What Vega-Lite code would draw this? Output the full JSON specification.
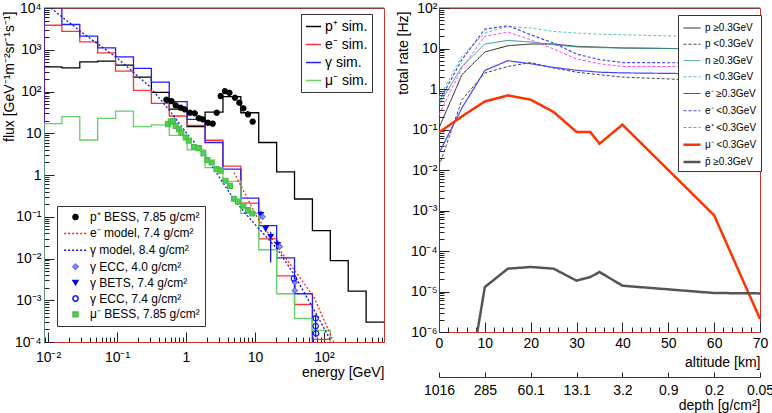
{
  "$schema": "https://vega.github.io/schema/vega-lite/v6.json",
  "padding": {"left": 1, "top": 0, "right": 0, "bottom": 0},
  "config": {
    "font": "Liberation Sans",
    "view": {"stroke": "#d03030", "strokeWidth": 1},
    "axis": {"labelFont": "Liberation Sans", "labelFontSize": 14, "labelColor": "black", "titleFont": "Liberation Sans", "titleFontSize": 14, "titleFontWeight": "normal", "titleColor": "black", "grid": false, "tickColor": "#222", "tickWidth": 1, "labelOverlap": false, "labelFlush": false, "labelBound": false},
    "legend": {"labelFont": "Liberation Sans", "labelColor": "black", "symbolOpacity": 1}
  },
  "resolve": {
    "scale": {"color": "independent", "stroke": "independent", "fill": "independent", "shape": "independent", "strokeDash": "independent", "strokeWidth": "independent", "size": "independent"},
    "legend": {"color": "independent", "stroke": "independent", "fill": "independent", "shape": "independent", "strokeDash": "independent", "strokeWidth": "independent", "size": "independent"}
  },
  "datasets": {
    "hist": [
      {"sim": "p⁺ sim.", "i": 0, "E": 0.00875, "f": 0.00001},
      {"sim": "p⁺ sim.", "i": 1, "E": 0.00875, "f": 390},
      {"sim": "p⁺ sim.", "i": 2, "E": 0.0159, "f": 370},
      {"sim": "p⁺ sim.", "i": 3, "E": 0.0289, "f": 513},
      {"sim": "p⁺ sim.", "i": 4, "E": 0.0525, "f": 533},
      {"sim": "p⁺ sim.", "i": 5, "E": 0.0954, "f": 429},
      {"sim": "p⁺ sim.", "i": 6, "E": 0.1734, "f": 221},
      {"sim": "p⁺ sim.", "i": 7, "E": 0.3151, "f": 95},
      {"sim": "p⁺ sim.", "i": 8, "E": 0.5726, "f": 38},
      {"sim": "p⁺ sim.", "i": 9, "E": 1.04, "f": 14.5},
      {"sim": "p⁺ sim.", "i": 10, "E": 1.891, "f": 32},
      {"sim": "p⁺ sim.", "i": 11, "E": 3.436, "f": 75},
      {"sim": "p⁺ sim.", "i": 12, "E": 6.243, "f": 31},
      {"sim": "p⁺ sim.", "i": 13, "E": 11.34, "f": 6},
      {"sim": "p⁺ sim.", "i": 14, "E": 20.62, "f": 1.19},
      {"sim": "p⁺ sim.", "i": 15, "E": 37.46, "f": 0.266},
      {"sim": "p⁺ sim.", "i": 16, "E": 68.08, "f": 0.0465},
      {"sim": "p⁺ sim.", "i": 17, "E": 123.7, "f": 0.0089},
      {"sim": "p⁺ sim.", "i": 18, "E": 224.8, "f": 0.00166},
      {"sim": "p⁺ sim.", "i": 19, "E": 408.6, "f": 0.0003},
      {"sim": "p⁺ sim.", "i": 20, "E": 742.4, "f": 0.0003},
      {"sim": "e⁻ sim.", "i": 0, "E": 0.00875, "f": 0.00001},
      {"sim": "e⁻ sim.", "i": 1, "E": 0.00875, "f": 3860},
      {"sim": "e⁻ sim.", "i": 2, "E": 0.0159, "f": 2770},
      {"sim": "e⁻ sim.", "i": 3, "E": 0.0289, "f": 1540},
      {"sim": "e⁻ sim.", "i": 4, "E": 0.0525, "f": 841},
      {"sim": "e⁻ sim.", "i": 5, "E": 0.0954, "f": 307},
      {"sim": "e⁻ sim.", "i": 6, "E": 0.1734, "f": 106},
      {"sim": "e⁻ sim.", "i": 7, "E": 0.3151, "f": 52.1},
      {"sim": "e⁻ sim.", "i": 8, "E": 0.5726, "f": 25.9},
      {"sim": "e⁻ sim.", "i": 9, "E": 1.04, "f": 15.5},
      {"sim": "e⁻ sim.", "i": 10, "E": 1.891, "f": 6.8},
      {"sim": "e⁻ sim.", "i": 11, "E": 3.436, "f": 1.63},
      {"sim": "e⁻ sim.", "i": 12, "E": 6.243, "f": 0.213},
      {"sim": "e⁻ sim.", "i": 13, "E": 11.34, "f": 0.0294},
      {"sim": "e⁻ sim.", "i": 14, "E": 20.62, "f": 0.00385},
      {"sim": "e⁻ sim.", "i": 15, "E": 37.46, "f": 0.00079},
      {"sim": "e⁻ sim.", "i": 16, "E": 68.08, "f": 0.000115},
      {"sim": "e⁻ sim.", "i": 17, "E": 123.7, "f": 0.000115},
      {"sim": "e⁻ sim.", "i": 18, "E": 123.7, "f": 0.00001},
      {"sim": "γ sim.", "i": 0, "E": 0.00875, "f": 0.00001},
      {"sim": "γ sim.", "i": 1, "E": 0.00875, "f": 12000},
      {"sim": "γ sim.", "i": 2, "E": 0.0159, "f": 4020},
      {"sim": "γ sim.", "i": 3, "E": 0.0289, "f": 2110},
      {"sim": "γ sim.", "i": 4, "E": 0.0525, "f": 1110},
      {"sim": "γ sim.", "i": 5, "E": 0.0954, "f": 676},
      {"sim": "γ sim.", "i": 6, "E": 0.1734, "f": 357},
      {"sim": "γ sim.", "i": 7, "E": 0.3151, "f": 168},
      {"sim": "γ sim.", "i": 8, "E": 0.5726, "f": 57},
      {"sim": "γ sim.", "i": 9, "E": 1.04, "f": 21.6},
      {"sim": "γ sim.", "i": 10, "E": 1.891, "f": 6.0},
      {"sim": "γ sim.", "i": 11, "E": 3.436, "f": 1.38},
      {"sim": "γ sim.", "i": 12, "E": 6.243, "f": 0.28},
      {"sim": "γ sim.", "i": 13, "E": 11.34, "f": 0.0612},
      {"sim": "γ sim.", "i": 14, "E": 20.62, "f": 0.01035},
      {"sim": "γ sim.", "i": 15, "E": 37.46, "f": 0.00143},
      {"sim": "γ sim.", "i": 16, "E": 68.08, "f": 0.00143},
      {"sim": "γ sim.", "i": 17, "E": 68.08, "f": 0.00001},
      {"sim": "μ⁻ sim.", "i": 0, "E": 0.00875, "f": 0.00001},
      {"sim": "μ⁻ sim.", "i": 1, "E": 0.00875, "f": 17},
      {"sim": "μ⁻ sim.", "i": 2, "E": 0.0159, "f": 25},
      {"sim": "μ⁻ sim.", "i": 3, "E": 0.0289, "f": 6.9},
      {"sim": "μ⁻ sim.", "i": 4, "E": 0.0525, "f": 22.8},
      {"sim": "μ⁻ sim.", "i": 5, "E": 0.0954, "f": 34},
      {"sim": "μ⁻ sim.", "i": 6, "E": 0.1734, "f": 14.4},
      {"sim": "μ⁻ sim.", "i": 7, "E": 0.3151, "f": 15.8},
      {"sim": "μ⁻ sim.", "i": 8, "E": 0.5726, "f": 8.9},
      {"sim": "μ⁻ sim.", "i": 9, "E": 1.04, "f": 4.0},
      {"sim": "μ⁻ sim.", "i": 10, "E": 1.891, "f": 1.51},
      {"sim": "μ⁻ sim.", "i": 11, "E": 3.436, "f": 0.70},
      {"sim": "μ⁻ sim.", "i": 12, "E": 6.243, "f": 0.12},
      {"sim": "μ⁻ sim.", "i": 13, "E": 11.34, "f": 0.0162},
      {"sim": "μ⁻ sim.", "i": 14, "E": 20.62, "f": 0.00143},
      {"sim": "μ⁻ sim.", "i": 15, "E": 37.46, "f": 0.00037},
      {"sim": "μ⁻ sim.", "i": 16, "E": 68.08, "f": 0.00019},
      {"sim": "μ⁻ sim.", "i": 17, "E": 123.7, "f": 0.00019},
      {"sim": "μ⁻ sim.", "i": 18, "E": 123.7, "f": 0.00001}
    ],
    "models": [
      {"label": "e⁻ model, 7.4 g/cm²", "E": 4.97, "f": 1.15},
      {"label": "e⁻ model, 7.4 g/cm²", "E": 10.8, "f": 0.0966},
      {"label": "e⁻ model, 7.4 g/cm²", "E": 26.3, "f": 0.0117},
      {"label": "e⁻ model, 7.4 g/cm²", "E": 71.6, "f": 0.00119},
      {"label": "e⁻ model, 7.4 g/cm²", "E": 138, "f": 0.0001},
      {"label": "γ model, 8.4 g/cm²", "E": 0.011, "f": 10000},
      {"label": "γ model, 8.4 g/cm²", "E": 0.03, "f": 2700},
      {"label": "γ model, 8.4 g/cm²", "E": 0.1, "f": 640},
      {"label": "γ model, 8.4 g/cm²", "E": 0.3, "f": 130},
      {"label": "γ model, 8.4 g/cm²", "E": 0.57, "f": 36},
      {"label": "γ model, 8.4 g/cm²", "E": 1.05, "f": 9.5},
      {"label": "γ model, 8.4 g/cm²", "E": 1.82, "f": 3.2},
      {"label": "γ model, 8.4 g/cm²", "E": 4.96, "f": 0.26},
      {"label": "γ model, 8.4 g/cm²", "E": 8.67, "f": 0.085},
      {"label": "γ model, 8.4 g/cm²", "E": 21.1, "f": 0.017},
      {"label": "γ model, 8.4 g/cm²", "E": 36.7, "f": 0.0042},
      {"label": "γ model, 8.4 g/cm²", "E": 75.9, "f": 0.0005},
      {"label": "γ model, 8.4 g/cm²", "E": 125, "f": 0.00011}
    ],
    "points": [
      {"label": "p⁺ BESS, 7.85 g/cm²", "E": 0.52, "f": 63.5},
      {"label": "p⁺ BESS, 7.85 g/cm²", "E": 0.614, "f": 59},
      {"label": "p⁺ BESS, 7.85 g/cm²", "E": 0.71, "f": 46.7},
      {"label": "p⁺ BESS, 7.85 g/cm²", "E": 0.838, "f": 40.9},
      {"label": "p⁺ BESS, 7.85 g/cm²", "E": 0.958, "f": 37.5},
      {"label": "p⁺ BESS, 7.85 g/cm²", "E": 1.14, "f": 31.1},
      {"label": "p⁺ BESS, 7.85 g/cm²", "E": 1.34, "f": 30.1},
      {"label": "p⁺ BESS, 7.85 g/cm²", "E": 1.54, "f": 22.9},
      {"label": "p⁺ BESS, 7.85 g/cm²", "E": 1.75, "f": 21.6},
      {"label": "p⁺ BESS, 7.85 g/cm²", "E": 2.08, "f": 17.9},
      {"label": "p⁺ BESS, 7.85 g/cm²", "E": 2.44, "f": 17},
      {"label": "p⁺ BESS, 7.85 g/cm²", "E": 2.79, "f": 31.1},
      {"label": "p⁺ BESS, 7.85 g/cm²", "E": 3.18, "f": 77.8},
      {"label": "p⁺ BESS, 7.85 g/cm²", "E": 3.67, "f": 102},
      {"label": "p⁺ BESS, 7.85 g/cm²", "E": 4.26, "f": 93.3},
      {"label": "p⁺ BESS, 7.85 g/cm²", "E": 5.13, "f": 71},
      {"label": "p⁺ BESS, 7.85 g/cm²", "E": 5.94, "f": 53.9},
      {"label": "p⁺ BESS, 7.85 g/cm²", "E": 6.79, "f": 39.6},
      {"label": "p⁺ BESS, 7.85 g/cm²", "E": 7.92, "f": 28.5},
      {"label": "p⁺ BESS, 7.85 g/cm²", "E": 9.27, "f": 19},
      {"label": "μ⁻ BESS, 7.85 g/cm²", "E": 0.548, "f": 16.4},
      {"label": "μ⁻ BESS, 7.85 g/cm²", "E": 0.6, "f": 19},
      {"label": "μ⁻ BESS, 7.85 g/cm²", "E": 0.648, "f": 19.7},
      {"label": "μ⁻ BESS, 7.85 g/cm²", "E": 0.71, "f": 15},
      {"label": "μ⁻ BESS, 7.85 g/cm²", "E": 0.792, "f": 12.5},
      {"label": "μ⁻ BESS, 7.85 g/cm²", "E": 0.857, "f": 10.4},
      {"label": "μ⁻ BESS, 7.85 g/cm²", "E": 0.99, "f": 7.9},
      {"label": "μ⁻ BESS, 7.85 g/cm²", "E": 1.1, "f": 6.6},
      {"label": "μ⁻ BESS, 7.85 g/cm²", "E": 1.31, "f": 4.7},
      {"label": "μ⁻ BESS, 7.85 g/cm²", "E": 1.54, "f": 4.4},
      {"label": "μ⁻ BESS, 7.85 g/cm²", "E": 1.79, "f": 3.26},
      {"label": "μ⁻ BESS, 7.85 g/cm²", "E": 2.04, "f": 2.27},
      {"label": "μ⁻ BESS, 7.85 g/cm²", "E": 2.36, "f": 1.99},
      {"label": "μ⁻ BESS, 7.85 g/cm²", "E": 2.76, "f": 1.38},
      {"label": "μ⁻ BESS, 7.85 g/cm²", "E": 3.18, "f": 1.26},
      {"label": "μ⁻ BESS, 7.85 g/cm²", "E": 3.75, "f": 0.73},
      {"label": "μ⁻ BESS, 7.85 g/cm²", "E": 4.34, "f": 0.55},
      {"label": "μ⁻ BESS, 7.85 g/cm²", "E": 4.96, "f": 0.27},
      {"label": "μ⁻ BESS, 7.85 g/cm²", "E": 5.67, "f": 0.23},
      {"label": "μ⁻ BESS, 7.85 g/cm²", "E": 6.79, "f": 0.184},
      {"label": "μ⁻ BESS, 7.85 g/cm²", "E": 7.92, "f": 0.145},
      {"label": "μ⁻ BESS, 7.85 g/cm²", "E": 9.16, "f": 0.12},
      {"label": "γ BETS, 7.4 g/cm²", "E": 12.2, "f": 0.112},
      {"label": "γ BETS, 7.4 g/cm²", "E": 14.3, "f": 0.052},
      {"label": "γ BETS, 7.4 g/cm²", "E": 16.9, "f": 0.0334},
      {"label": "γ BETS, 7.4 g/cm²", "E": 21.4, "f": 0.0215},
      {"label": "γ ECC, 4.0 g/cm²", "E": 12.9, "f": 0.1},
      {"label": "γ ECC, 4.0 g/cm²", "E": 22.9, "f": 0.0193},
      {"label": "γ ECC, 4.0 g/cm²", "E": 37.8, "f": 0.0027},
      {"label": "γ ECC, 4.0 g/cm²", "E": 37.8, "f": 0.0017},
      {"label": "γ ECC, 7.4 g/cm²", "E": 36.7, "f": 0.0033},
      {"label": "γ ECC, 7.4 g/cm²", "E": 75.9, "f": 0.00037},
      {"label": "γ ECC, 7.4 g/cm²", "E": 75.9, "f": 0.00024},
      {"label": "γ ECC, 7.4 g/cm²", "E": 77, "f": 0.00016}
    ],
    "errs": [
      {"E": 12.2, "lo": 0.09, "hi": 0.14},
      {"E": 14.3, "lo": 0.044, "hi": 0.062},
      {"E": 16.9, "lo": 0.008, "hi": 0.044},
      {"E": 21.4, "lo": 0.017, "hi": 0.027},
      {"E": 37.8, "lo": 0.0014, "hi": 0.0034},
      {"E": 75.9, "lo": 0.00013, "hi": 0.00045}
    ],
    "rates": [
      {"s": "p ≥0.3GeV", "alt": 0, "r": 0.109}, {"s": "p ≥0.3GeV", "alt": 5, "r": 2.25}, {"s": "p ≥0.3GeV", "alt": 10, "r": 8.2}, {"s": "p ≥0.3GeV", "alt": 15, "r": 11.7}, {"s": "p ≥0.3GeV", "alt": 20, "r": 12.9}, {"s": "p ≥0.3GeV", "alt": 25, "r": 12.9}, {"s": "p ≥0.3GeV", "alt": 30, "r": 11.3}, {"s": "p ≥0.3GeV", "alt": 35, "r": 10.8}, {"s": "p ≥0.3GeV", "alt": 40, "r": 10.3}, {"s": "p ≥0.3GeV", "alt": 60, "r": 9.7}, {"s": "p ≥0.3GeV", "alt": 70, "r": 9.6},
      {"s": "p <0.3GeV", "alt": 0, "r": 0.0123}, {"s": "p <0.3GeV", "alt": 5, "r": 0.54}, {"s": "p <0.3GeV", "alt": 10, "r": 2.48}, {"s": "p <0.3GeV", "alt": 15, "r": 3.6}, {"s": "p <0.3GeV", "alt": 20, "r": 4.5}, {"s": "p <0.3GeV", "alt": 25, "r": 3.3}, {"s": "p <0.3GeV", "alt": 30, "r": 2.6}, {"s": "p <0.3GeV", "alt": 35, "r": 2.25}, {"s": "p <0.3GeV", "alt": 40, "r": 1.97}, {"s": "p <0.3GeV", "alt": 60, "r": 1.59}, {"s": "p <0.3GeV", "alt": 70, "r": 1.4},
      {"s": "n ≥0.3GeV", "alt": 0, "r": 0.41}, {"s": "n ≥0.3GeV", "alt": 5, "r": 3.6}, {"s": "n ≥0.3GeV", "alt": 10, "r": 12.9}, {"s": "n ≥0.3GeV", "alt": 15, "r": 15.8}, {"s": "n ≥0.3GeV", "alt": 20, "r": 14.5}, {"s": "n ≥0.3GeV", "alt": 25, "r": 12.4}, {"s": "n ≥0.3GeV", "alt": 30, "r": 10.9}, {"s": "n ≥0.3GeV", "alt": 35, "r": 10.5}, {"s": "n ≥0.3GeV", "alt": 40, "r": 10.3}, {"s": "n ≥0.3GeV", "alt": 60, "r": 9.8}, {"s": "n ≥0.3GeV", "alt": 70, "r": 9.8},
      {"s": "n <0.3GeV", "alt": 0, "r": 0.6}, {"s": "n <0.3GeV", "alt": 5, "r": 6.4}, {"s": "n <0.3GeV", "alt": 10, "r": 24}, {"s": "n <0.3GeV", "alt": 15, "r": 35}, {"s": "n <0.3GeV", "alt": 20, "r": 32}, {"s": "n <0.3GeV", "alt": 25, "r": 26.4}, {"s": "n <0.3GeV", "alt": 30, "r": 24}, {"s": "n <0.3GeV", "alt": 35, "r": 22.5}, {"s": "n <0.3GeV", "alt": 40, "r": 21.9}, {"s": "n <0.3GeV", "alt": 60, "r": 19.2}, {"s": "n <0.3GeV", "alt": 70, "r": 17},
      {"s": "e⁻ ≥0.3GeV", "alt": 0, "r": 0.026}, {"s": "e⁻ ≥0.3GeV", "alt": 5, "r": 0.34}, {"s": "e⁻ ≥0.3GeV", "alt": 10, "r": 2.88}, {"s": "e⁻ ≥0.3GeV", "alt": 15, "r": 5.0}, {"s": "e⁻ ≥0.3GeV", "alt": 20, "r": 4.2}, {"s": "e⁻ ≥0.3GeV", "alt": 25, "r": 3.4}, {"s": "e⁻ ≥0.3GeV", "alt": 30, "r": 2.9}, {"s": "e⁻ ≥0.3GeV", "alt": 35, "r": 2.6}, {"s": "e⁻ ≥0.3GeV", "alt": 40, "r": 2.5}, {"s": "e⁻ ≥0.3GeV", "alt": 60, "r": 2.36}, {"s": "e⁻ ≥0.3GeV", "alt": 70, "r": 2.4},
      {"s": "e⁻ <0.3GeV", "alt": 0, "r": 0.49}, {"s": "e⁻ <0.3GeV", "alt": 5, "r": 5.3}, {"s": "e⁻ <0.3GeV", "alt": 10, "r": 30}, {"s": "e⁻ <0.3GeV", "alt": 15, "r": 36.6}, {"s": "e⁻ <0.3GeV", "alt": 20, "r": 21.9}, {"s": "e⁻ <0.3GeV", "alt": 25, "r": 13.6}, {"s": "e⁻ <0.3GeV", "alt": 30, "r": 7.3}, {"s": "e⁻ <0.3GeV", "alt": 35, "r": 5.3}, {"s": "e⁻ <0.3GeV", "alt": 40, "r": 4.5}, {"s": "e⁻ <0.3GeV", "alt": 60, "r": 4.4}, {"s": "e⁻ <0.3GeV", "alt": 70, "r": 4.4},
      {"s": "e⁺ <0.3GeV", "alt": 0, "r": 0.23}, {"s": "e⁺ <0.3GeV", "alt": 5, "r": 3.3}, {"s": "e⁺ <0.3GeV", "alt": 10, "r": 19.9}, {"s": "e⁺ <0.3GeV", "alt": 15, "r": 25.5}, {"s": "e⁺ <0.3GeV", "alt": 20, "r": 16.5}, {"s": "e⁺ <0.3GeV", "alt": 25, "r": 9.7}, {"s": "e⁺ <0.3GeV", "alt": 30, "r": 5.5}, {"s": "e⁺ <0.3GeV", "alt": 35, "r": 4.2}, {"s": "e⁺ <0.3GeV", "alt": 40, "r": 3.6}, {"s": "e⁺ <0.3GeV", "alt": 60, "r": 3.6}, {"s": "e⁺ <0.3GeV", "alt": 70, "r": 3.6},
      {"s": "μ⁻ <0.3GeV", "alt": 0, "r": 0.085}, {"s": "μ⁻ <0.3GeV", "alt": 5, "r": 0.21}, {"s": "μ⁻ <0.3GeV", "alt": 10, "r": 0.494}, {"s": "μ⁻ <0.3GeV", "alt": 15, "r": 0.695}, {"s": "μ⁻ <0.3GeV", "alt": 20, "r": 0.545}, {"s": "μ⁻ <0.3GeV", "alt": 25, "r": 0.27}, {"s": "μ⁻ <0.3GeV", "alt": 30, "r": 0.0867}, {"s": "μ⁻ <0.3GeV", "alt": 33, "r": 0.0867}, {"s": "μ⁻ <0.3GeV", "alt": 35, "r": 0.0446}, {"s": "μ⁻ <0.3GeV", "alt": 40, "r": 0.1315}, {"s": "μ⁻ <0.3GeV", "alt": 60, "r": 0.00076}, {"s": "μ⁻ <0.3GeV", "alt": 70, "r": 0.0000021},
      {"s": "p̄ ≥0.3GeV", "alt": 5, "r": 0.0000000055}, {"s": "p̄ ≥0.3GeV", "alt": 10, "r": 0.0000129}, {"s": "p̄ ≥0.3GeV", "alt": 15, "r": 0.0000366}, {"s": "p̄ ≥0.3GeV", "alt": 20, "r": 0.0000403}, {"s": "p̄ ≥0.3GeV", "alt": 25, "r": 0.0000366}, {"s": "p̄ ≥0.3GeV", "alt": 30, "r": 0.0000185}, {"s": "p̄ ≥0.3GeV", "alt": 33, "r": 0.0000228}, {"s": "p̄ ≥0.3GeV", "alt": 35, "r": 0.0000303}, {"s": "p̄ ≥0.3GeV", "alt": 40, "r": 0.0000139}, {"s": "p̄ ≥0.3GeV", "alt": 60, "r": 0.00000918}, {"s": "p̄ ≥0.3GeV", "alt": 70, "r": 0.00000898}
    ]
  },
  "hconcat": [
    {
      "width": 340,
      "height": 334,
      "layer": [
        {
          "data": {"values": [{}]},
          "mark": {"type": "rule", "color": "#444", "strokeWidth": 1},
          "encoding": {
            "y": {"datum": 10000, "type": "quantitative", "scale": {"type": "log", "domain": [0.0001, 10000]}, "title": "flux [GeV⁻¹m⁻²sr⁻¹s⁻¹]"}
          }
        },
        {
          "data": {"name": "hist"},
          "mark": {"type": "line", "interpolate": "step-after", "strokeWidth": 1.3, "clip": true},
          "encoding": {
            "x": {
              "field": "E", "type": "quantitative", "title": "energy [GeV]",
              "scale": {"type": "log", "domain": [0.00875, 742.4]},
              "axis": {
                "values": [0.009,0.01,0.02,0.03,0.04,0.05,0.06,0.07,0.08,0.09,0.1,0.2,0.3,0.4,0.5,0.6,0.7,0.8,0.9,1,2,3,4,5,6,7,8,9,10,20,30,40,50,60,70,80,90,100,200,300,400,500,600,700],
                "labelExpr": "datum.value == 0.01 ? '10⁻²' : datum.value == 0.1 ? '10⁻¹' : datum.value == 1 ? '1' : datum.value == 10 ? '10' : datum.value == 100 ? '10²' : ''",
                "tickSize": {"condition": {"test": "indexof([0.01,0.1,1,10,100], datum.value) >= 0", "value": -10}, "value": -5},
                "labelPadding": 18,
                "domainColor": "#d03030",
                "titleAnchor": "end", "titleAlign": "right", "titleBaseline": "top", "titleX": 340, "titleY": 23
              }
            },
            "y": {
              "field": "f", "type": "quantitative", "title": "flux [GeV⁻¹m⁻²sr⁻¹s⁻¹]",
              "scale": {"type": "log", "domain": [0.0001, 10000]},
              "axis": {
                "values": [0.0001,0.0002,0.0003,0.0004,0.0005,0.0006,0.0007,0.0008,0.0009,0.001,0.002,0.003,0.004,0.005,0.006,0.007,0.008,0.009,0.01,0.02,0.03,0.04,0.05,0.06,0.07,0.08,0.09,0.1,0.2,0.3,0.4,0.5,0.6,0.7,0.8,0.9,1,2,3,4,5,6,7,8,9,10,20,30,40,50,60,70,80,90,100,200,300,400,500,600,700,800,900,1000,2000,3000,4000,5000,6000,7000,8000,9000,10000],
                "labelExpr": "datum.value == 10000 ? '10⁴' : datum.value == 1000 ? '10³' : datum.value == 100 ? '10²' : datum.value == 10 ? '10' : datum.value == 1 ? '1' : datum.value == 0.1 ? '10⁻¹' : datum.value == 0.01 ? '10⁻²' : datum.value == 0.001 ? '10⁻³' : datum.value == 0.0001 ? '10⁻⁴' : ''",
                "tickSize": {"condition": {"test": "indexof([0.0001,0.001,0.01,0.1,1,10,100,1000,10000], datum.value) >= 0", "value": -10}, "value": -5},
                "labelPadding": 13,
                "domainColor": "#444",
                "titleAnchor": "end", "titleAlign": "right", "titleBaseline": "bottom", "titleX": -28, "titleY": 3
              }
            },
            "color": {
              "field": "sim", "type": "nominal",
              "scale": {"domain": ["p⁺ sim.", "e⁻ sim.", "γ sim.", "μ⁻ sim."], "range": ["#000000", "#ff3030", "#2020ff", "#66d066"]},
              "legend": {"title": null, "orient": "none", "legendX": 257, "legendY": 6, "symbolType": "stroke", "symbolSize": 225, "symbolStrokeWidth": 1.5, "labelFontSize": 14, "labelOffset": 3, "padding": 4, "rowPadding": 2, "strokeColor": "#333", "fillColor": "white"}
            },
            "order": {"field": "i", "type": "quantitative"}
          }
        },
        {
          "data": {"name": "models"},
          "transform": [{"filter": "datum.label == 'e⁻ model, 7.4 g/cm²'"}],
          "mark": {"type": "line", "strokeDash": [2, 2], "strokeWidth": 1.3, "color": "#ff2020", "clip": true},
          "encoding": {
            "x": {"field": "E", "type": "quantitative", "title": "energy [GeV]", "scale": {"type": "log", "domain": [0.00875, 742.4]}},
            "y": {"field": "f", "type": "quantitative", "title": "flux [GeV⁻¹m⁻²sr⁻¹s⁻¹]", "scale": {"type": "log", "domain": [0.0001, 10000]}}
          }
        },
        {
          "data": {"name": "models"},
          "transform": [{"filter": "datum.label == 'γ model, 8.4 g/cm²'"}],
          "mark": {"type": "line", "strokeDash": [2, 2], "strokeWidth": 1.3, "color": "#1010ee", "clip": true},
          "encoding": {
            "x": {"field": "E", "type": "quantitative", "title": "energy [GeV]", "scale": {"type": "log", "domain": [0.00875, 742.4]}},
            "y": {"field": "f", "type": "quantitative", "title": "flux [GeV⁻¹m⁻²sr⁻¹s⁻¹]", "scale": {"type": "log", "domain": [0.0001, 10000]}}
          }
        },
        {
          "data": {"name": "errs"},
          "mark": {"type": "rule", "color": "#0000ee", "strokeWidth": 1.2, "clip": true},
          "encoding": {
            "x": {"field": "E", "type": "quantitative", "title": "energy [GeV]", "scale": {"type": "log", "domain": [0.00875, 742.4]}},
            "y": {"field": "lo", "type": "quantitative", "title": "flux [GeV⁻¹m⁻²sr⁻¹s⁻¹]", "scale": {"type": "log", "domain": [0.0001, 10000]}},
            "y2": {"field": "hi"}
          }
        },
        {
          "data": {"name": "points"},
          "mark": {"type": "point", "strokeWidth": 1.2, "opacity": 1, "clip": true},
          "encoding": {
            "x": {"field": "E", "type": "quantitative", "title": "energy [GeV]", "scale": {"type": "log", "domain": [0.00875, 742.4]}},
            "y": {"field": "f", "type": "quantitative", "title": "flux [GeV⁻¹m⁻²sr⁻¹s⁻¹]", "scale": {"type": "log", "domain": [0.0001, 10000]}},
            "stroke": {
              "field": "label", "type": "nominal",
              "scale": {"domain": ["p⁺ BESS, 7.85 g/cm²", "e⁻ model, 7.4 g/cm²", "γ model, 8.4 g/cm²", "γ ECC, 4.0 g/cm²", "γ BETS, 7.4 g/cm²", "γ ECC, 7.4 g/cm²", "μ⁻ BESS, 7.85 g/cm²"], "range": ["#000000", "#ff2020", "#1010ee", "#6666ff", "#0000ee", "#1010ff", "#44c044"]},
              "legend": {"title": null, "orient": "none", "legendX": 13, "legendY": 198, "symbolOffset": 7, "labelFontSize": 12, "labelOffset": 8, "padding": 5, "rowPadding": 3.9, "strokeColor": "#333", "fillColor": "white"}
            },
            "fill": {
              "field": "label", "type": "nominal",
              "scale": {"domain": ["p⁺ BESS, 7.85 g/cm²", "e⁻ model, 7.4 g/cm²", "γ model, 8.4 g/cm²", "γ ECC, 4.0 g/cm²", "γ BETS, 7.4 g/cm²", "γ ECC, 7.4 g/cm²", "μ⁻ BESS, 7.85 g/cm²"], "range": ["#000000", "rgba(0,0,0,0)", "rgba(0,0,0,0)", "#9999ff", "#0000ee", "rgba(0,0,0,0)", "#55cc55"]},
              "legend": {"title": null, "orient": "none", "legendX": 13, "legendY": 198, "symbolOffset": 7, "labelFontSize": 12, "labelOffset": 8, "padding": 5, "rowPadding": 3.9, "strokeColor": "#333", "fillColor": "white"}
            },
            "shape": {
              "field": "label", "type": "nominal",
              "scale": {"domain": ["p⁺ BESS, 7.85 g/cm²", "e⁻ model, 7.4 g/cm²", "γ model, 8.4 g/cm²", "γ ECC, 4.0 g/cm²", "γ BETS, 7.4 g/cm²", "γ ECC, 7.4 g/cm²", "μ⁻ BESS, 7.85 g/cm²"], "range": ["circle", "M-2,0H2", "M-2,0H2", "diamond", "triangle-down", "circle", "square"]},
              "legend": {"title": null, "orient": "none", "legendX": 13, "legendY": 198, "symbolOffset": 7, "labelFontSize": 12, "labelOffset": 8, "padding": 5, "rowPadding": 3.9, "strokeColor": "#333", "fillColor": "white"}
            },
            "strokeDash": {
              "field": "label", "type": "nominal",
              "scale": {"domain": ["p⁺ BESS, 7.85 g/cm²", "e⁻ model, 7.4 g/cm²", "γ model, 8.4 g/cm²", "γ ECC, 4.0 g/cm²", "γ BETS, 7.4 g/cm²", "γ ECC, 7.4 g/cm²", "μ⁻ BESS, 7.85 g/cm²"], "range": [[1, 0], [2, 2], [2, 2], [1, 0], [1, 0], [1, 0], [1, 0]]},
              "legend": {"title": null, "orient": "none", "legendX": 13, "legendY": 198, "symbolOffset": 7, "labelFontSize": 12, "labelOffset": 8, "padding": 5, "rowPadding": 3.9, "strokeColor": "#333", "fillColor": "white"}
            },
            "size": {
              "field": "label", "type": "nominal",
              "scale": {"type": "ordinal", "domain": ["p⁺ BESS, 7.85 g/cm²", "e⁻ model, 7.4 g/cm²", "γ model, 8.4 g/cm²", "γ ECC, 4.0 g/cm²", "γ BETS, 7.4 g/cm²", "γ ECC, 7.4 g/cm²", "μ⁻ BESS, 7.85 g/cm²"], "range": [26, 130, 130, 26, 24, 28, 24]},
              "legend": {"title": null, "orient": "none", "legendX": 13, "legendY": 198, "symbolOffset": 7, "labelFontSize": 12, "labelOffset": 8, "padding": 5, "rowPadding": 3.9, "strokeColor": "#333", "fillColor": "white"}
            }
          }
        }
      ]
    },
    {
      "width": 321,
      "height": 324,
      "layer": [
        {
          "data": {"values": [{}]},
          "mark": {"type": "rule", "color": "#444", "strokeWidth": 1},
          "encoding": {
            "x": {
              "datum": 0, "type": "quantitative",
              "scale": {"domain": [0, 70], "nice": false},
              "axis": {
                "title": "depth [g/cm²]",
                "orient": "bottom", "offset": 45,
                "values": [0, 10, 20, 30, 40, 50, 60, 70],
                "labelExpr": "datum.value == 0 ? '1016' : datum.value == 10 ? '285' : datum.value == 20 ? '60.1' : datum.value == 30 ? '13.1' : datum.value == 40 ? '3.2' : datum.value == 50 ? '0.9' : datum.value == 60 ? '0.2' : '0.05'",
                "tickSize": -5, "labelPadding": 11, "domainColor": "#333",
                "titleAnchor": "end", "titlePadding": 1
              }
            },
            "x2": {"datum": 70},
            "y": {"datum": 100, "type": "quantitative", "title": "total rate [Hz]", "scale": {"type": "log", "domain": [0.000001, 100]}}
          }
        },
        {
          "data": {"name": "rates"},
          "mark": {"type": "line", "clip": true},
          "encoding": {
            "x": {
              "field": "alt", "type": "quantitative", "title": "altitude [km]",
              "scale": {"domain": [0, 70], "nice": false},
              "axis": {
                "orient": "bottom",
                "values": [0,2,4,6,8,10,12,14,16,18,20,22,24,26,28,30,32,34,36,38,40,42,44,46,48,50,52,54,56,58,60,62,64,66,68,70],
                "labelExpr": "datum.value % 10 == 0 ? datum.label : ''",
                "tickSize": {"condition": {"test": "datum.value % 10 == 0", "value": -10}, "value": -5},
                "labelPadding": 14, "domainColor": "#d03030",
                "titleAnchor": "end", "titleAlign": "right", "titleBaseline": "top", "titleX": 321, "titleY": 23
              }
            },
            "y": {
              "field": "r", "type": "quantitative", "title": "total rate [Hz]",
              "scale": {"type": "log", "domain": [0.000001, 100]},
              "axis": {
                "values": [0.000001,0.000002,0.000003,0.000004,0.000005,0.000006,0.000007,0.000008,0.000009,0.00001,0.00002,0.00003,0.00004,0.00005,0.00006,0.00007,0.00008,0.00009,0.0001,0.0002,0.0003,0.0004,0.0005,0.0006,0.0007,0.0008,0.0009,0.001,0.002,0.003,0.004,0.005,0.006,0.007,0.008,0.009,0.01,0.02,0.03,0.04,0.05,0.06,0.07,0.08,0.09,0.1,0.2,0.3,0.4,0.5,0.6,0.7,0.8,0.9,1,2,3,4,5,6,7,8,9,10,20,30,40,50,60,70,80,90,100],
                "labelExpr": "datum.value == 100 ? '10²' : datum.value == 10 ? '10' : datum.value == 1 ? '1' : datum.value == 0.1 ? '10⁻¹' : datum.value == 0.01 ? '10⁻²' : datum.value == 0.001 ? '10⁻³' : datum.value == 0.0001 ? '10⁻⁴' : datum.value == 0.00001 ? '10⁻⁵' : datum.value == 0.000001 ? '10⁻⁶' : ''",
                "tickSize": {"condition": {"test": "indexof([0.000001,0.00001,0.0001,0.001,0.01,0.1,1,10,100], datum.value) >= 0", "value": -10}, "value": -5},
                "labelPadding": 12, "domainColor": "#444",
                "titleAnchor": "end", "titleAlign": "right", "titleBaseline": "bottom", "titleX": -29, "titleY": 3
              }
            },
            "color": {
              "field": "s", "type": "nominal",
              "scale": {"domain": ["p ≥0.3GeV", "p <0.3GeV", "n ≥0.3GeV", "n <0.3GeV", "e⁻ ≥0.3GeV", "e⁻ <0.3GeV", "e⁺ <0.3GeV", "μ⁻ <0.3GeV", "p̄ ≥0.3GeV"], "range": ["#1a1a1a", "#444444", "#2e9c8c", "#5fbfbf", "#4545ff", "#4545ff", "#ff44ff", "#ff3300", "#555555"]},
              "legend": {"title": null, "orient": "none", "legendX": 239, "legendY": 7, "symbolType": "stroke", "symbolSize": 289, "labelFontSize": 10, "labelOffset": 3, "padding": 4, "rowPadding": 2.25, "strokeColor": "#333", "fillColor": "white"}
            },
            "strokeDash": {
              "field": "s", "type": "nominal",
              "scale": {"domain": ["p ≥0.3GeV", "p <0.3GeV", "n ≥0.3GeV", "n <0.3GeV", "e⁻ ≥0.3GeV", "e⁻ <0.3GeV", "e⁺ <0.3GeV", "μ⁻ <0.3GeV", "p̄ ≥0.3GeV"], "range": [[1, 0], [3, 2], [1, 0], [3, 2], [1, 0], [3, 2], [3, 2], [1, 0], [1, 0]]},
              "legend": {"title": null, "orient": "none", "legendX": 239, "legendY": 7, "symbolType": "stroke", "symbolSize": 289, "labelFontSize": 10, "labelOffset": 3, "padding": 4, "rowPadding": 2.25, "strokeColor": "#333", "fillColor": "white"}
            },
            "strokeWidth": {
              "field": "s", "type": "nominal",
              "scale": {"type": "ordinal", "domain": ["p ≥0.3GeV", "p <0.3GeV", "n ≥0.3GeV", "n <0.3GeV", "e⁻ ≥0.3GeV", "e⁻ <0.3GeV", "e⁺ <0.3GeV", "μ⁻ <0.3GeV", "p̄ ≥0.3GeV"], "range": [1, 1, 1, 1, 1.2, 1.2, 1, 2.5, 2.5]},
              "legend": {"title": null, "orient": "none", "legendX": 239, "legendY": 7, "symbolType": "stroke", "symbolSize": 289, "labelFontSize": 10, "labelOffset": 3, "padding": 4, "rowPadding": 2.25, "strokeColor": "#333", "fillColor": "white"}
            }
          }
        }
      ],
      "resolve": {"axis": {"x": "independent"}}
    }
  ],
  "spacing": 55,
  "bounds": "flush"
}
